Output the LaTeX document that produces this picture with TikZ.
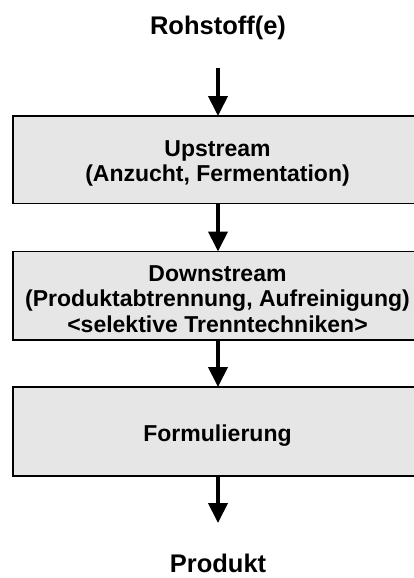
\documentclass[tikz,border=0pt]{standalone}
\usepackage{fontspec}
\setmainfont{Liberation Sans}
\usetikzlibrary{arrows.meta}
\definecolor{boxfill}{HTML}{E6E6E6}
\tikzset{
  stage/.style={draw=black, line width=1.3pt, fill=boxfill, rectangle, minimum width=410pt, inner sep=0pt, outer sep=0pt},
  boxtext/.style={font=\bfseries\fontsize{23}{25.5}\selectfont, align=center, inner sep=0pt},
  endtext/.style={font=\bfseries\fontsize{25.5}{28}\selectfont, inner sep=0pt, anchor=base},
  flow/.style={line width=4pt, -{Triangle[width=19pt,length=20pt]}}
}
\begin{document}
\begin{tikzpicture}[x=1pt,y=-1pt]
\useasboundingbox (0,0) rectangle (414,578);
\clip (0,0) rectangle (414,578);
\fill[white] (0,0) rectangle (414,578);
% end labels
\node[endtext] (raw) at (218,34.3) {Rohstoff(e)};
\node[endtext] (prod) at (218,572.5) {Produkt};
% stage boxes
\node[stage, minimum height=87.5pt] (b1) at (218,159.75) {};
\node[stage, minimum height=88.5pt] (b2) at (218,295.75) {};
\node[stage, minimum height=89pt] (b3) at (218,431.5) {};
% box texts
\node[boxtext] (t1) at (217.5,163.5) {Upstream\\(Anzucht, Fermentation)};
\node[boxtext] (t2) at (217.5,299) {Downstream\\(Produktabtrennung, Aufreinigung)\\<selektive Trenntechniken>};
\node[boxtext, anchor=base] (t3) at (217.5,441.7) {Formulierung};
% connectors
\coordinate (a0) at (218,67.7);
\coordinate (a4) at (218,523);
\draw[flow] (a0) -- (b1.north);
\draw[flow] (b1.south) -- (b2.north);
\draw[flow] (b2.south) -- (b3.north);
\draw[flow] (b3.south) -- (a4);
\end{tikzpicture}
\end{document}
